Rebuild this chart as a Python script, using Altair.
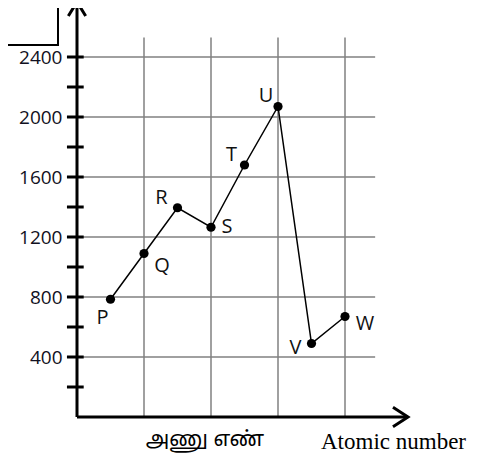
import altair as alt
import pandas as pd

# data
elements = ["P", "Q", "R", "S", "T", "U", "V", "W"]
positions = [1, 2, 3, 4, 5, 6, 7, 8]
energies = [785, 1090, 1395, 1265, 1680, 2070, 490, 670]
y_major = [400, 800, 1200, 1600, 2000, 2400]
y_ticks = [200, 400, 600, 800, 1000, 1200, 1400, 1600, 1800, 2000, 2200, 2400]
x_grid = [2, 4, 6, 8]
title_ta = "அணு எண்"
title_en = "Atomic number"

df = pd.DataFrame({"el": elements, "x": positions, "y": energies})

xs = alt.Scale(domain=[0, 10], nice=False, zero=False)
ys = alt.Scale(domain=[0, 2700], nice=False, zero=False)
yax = alt.Axis(values=y_major, format="d", title=None, domain=False, ticks=False,
               grid=False, labelPadding=15, labelFontSize=19, labelFont="Open Sans",
               labelColor="#111122")

def X(f):
    return alt.X(f, type="quantitative", scale=xs, axis=None)

def Y(f):
    return alt.Y(f, type="quantitative", scale=ys, axis=yax)

one = pd.DataFrame({"a": [0]})

box_v = alt.Chart(one).mark_rule(color="black", strokeWidth=2).encode(
    x=alt.value(-19), y=alt.value(-10), y2=alt.value(34))
box_h = alt.Chart(one).mark_rule(color="black", strokeWidth=2).encode(
    x=alt.value(-80), x2=alt.value(-18), y=alt.value(33))

hgrid = alt.Chart(pd.DataFrame({"y": y_major, "x0": 0, "x1": 8.9})).mark_rule(
    color="#808080", strokeWidth=1.5).encode(x=X("x0"), x2="x1", y=Y("y"))

vgrid = alt.Chart(pd.DataFrame({"x": x_grid, "y0": 0, "y1": 2530})).mark_rule(
    color="#808080", strokeWidth=1.5).encode(x=X("x"), y=Y("y0"), y2="y1")

line = alt.Chart(df).mark_line(color="black", strokeWidth=1.5).encode(
    x=X("x"), y=Y("y"), order="x:Q")

pts = alt.Chart(df).mark_circle(size=85, color="black", opacity=1).encode(
    x=X("x"), y=Y("y"))

ticks = alt.Chart(pd.DataFrame({"y": y_ticks, "x0": -0.3, "x1": 0.2})).mark_rule(
    color="black", strokeWidth=3).encode(x=X("x0"), x2="x1", y=Y("y"))

yaxis = alt.Chart(pd.DataFrame({"x": [0], "y0": [0], "y1": [2767]})).mark_rule(
    color="black", strokeWidth=3).encode(x=X("x"), y=Y("y0"), y2="y1")

xaxis = alt.Chart(pd.DataFrame({"y": [0], "x0": [0], "x1": [9.88]})).mark_rule(
    color="black", strokeWidth=3).encode(x=X("x0"), x2="x1", y=Y("y"))

arrow_up = alt.Chart(pd.DataFrame({"x": [0], "y": [2767]})).mark_point(
    shape="M-0.62,1L0,0L0.62,1", size=784, filled=False, stroke="black",
    strokeWidth=3, opacity=1).encode(x=X("x"), y=Y("y"))

arrow_right = alt.Chart(pd.DataFrame({"x": [9.88], "y": [0]})).mark_point(
    shape="M-1,-0.65L0,0L-1,0.65", size=900, filled=False, stroke="black",
    strokeWidth=3, opacity=1).encode(x=X("x"), y=Y("y"))

offsets = {"P": (-8, 19), "Q": (18, 12), "R": (-16, -10), "S": (16, 0),
           "T": (-13, -10), "U": (-12, -11), "V": (-16, 4), "W": (20, 7)}
labels = []
for el, (dx, dy) in offsets.items():
    labels.append(
        alt.Chart(df).transform_filter(alt.datum.el == el).mark_text(
            dx=dx, dy=dy, fontSize=20, font="Open Sans", color="#111111",
            align="center", baseline="middle").encode(x=X("x"), y=Y("y"), text="el:N"))

t_ta = alt.Chart(pd.DataFrame({"t": [title_ta]})).mark_text(
    fontSize=21, font="Noto Sans Tamil, Latha, sans-serif", color="black",
    align="center", baseline="middle").encode(
    x=alt.value(128), y=alt.value(428), text="t:N")

t_en = alt.Chart(pd.DataFrame({"t": [title_en]})).mark_text(
    fontSize=23, font="Liberation Serif", color="black",
    align="left", baseline="middle").encode(
    x=alt.value(244), y=alt.value(430), text="t:N")

chart = alt.layer(box_v, box_h, hgrid, vgrid, line, pts, ticks, yaxis, xaxis,
                  arrow_up, arrow_right, *labels, t_ta, t_en).properties(
    width=335, height=405,
    autosize=alt.AutoSizeParams(type="none"),
    padding={"left": 69, "top": 4, "right": 65, "bottom": 36},
).configure_view(stroke=None)

chart.save("out.html", embed_options={"renderer": "svg", "actions": False})
